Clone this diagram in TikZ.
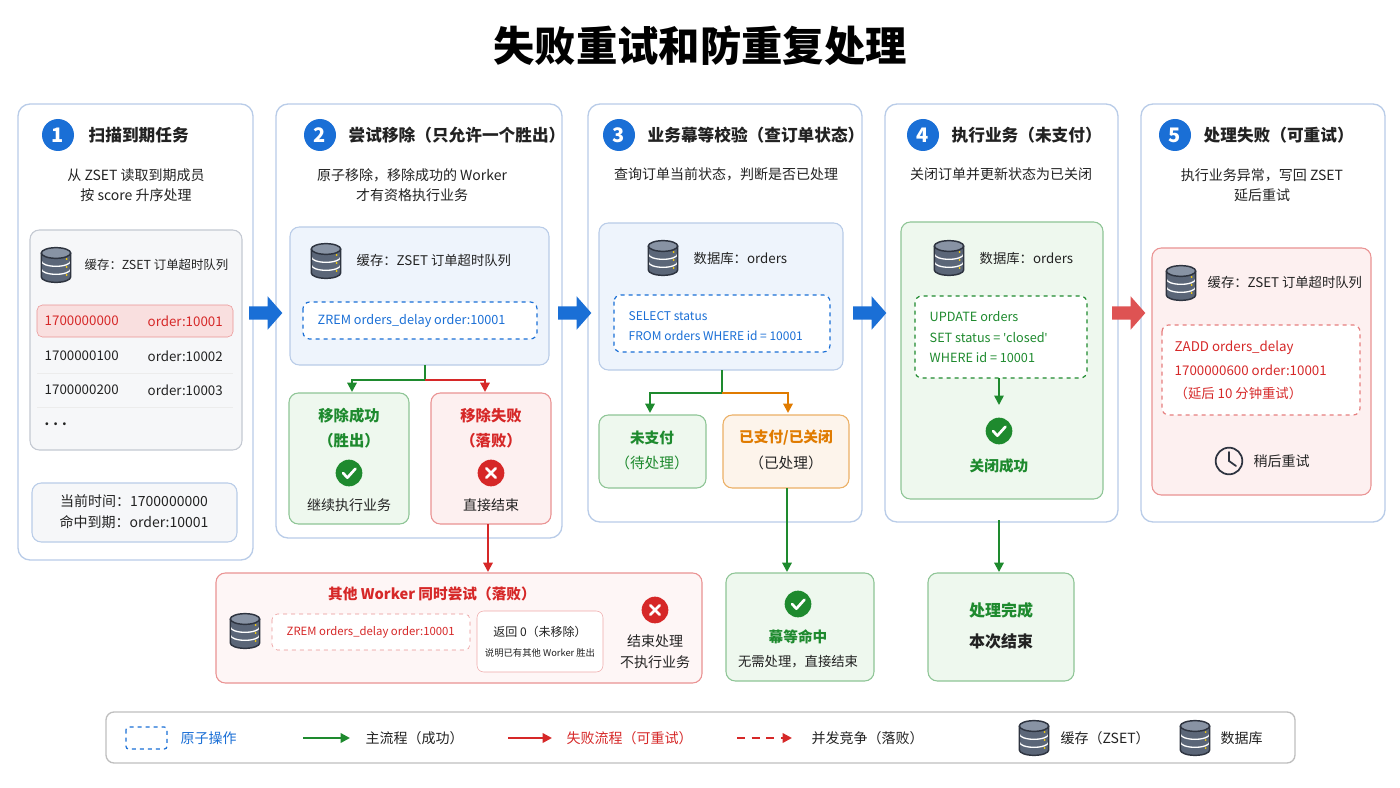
\documentclass[tikz,border=0pt]{standalone}
\usepackage{fontspec}
\setmainfont{Noto Sans CJK SC}
\newfontfamily\latfont{Noto Sans}
\newcommand{\mysq}{{\latfont\char"27}}
\usetikzlibrary{arrows.meta}
\definecolor{pborder}{HTML}{B9CCE8}
\definecolor{cblue}{HTML}{1A6FD6}
\definecolor{cgreen}{HTML}{1E8A2E}
\definecolor{cred}{HTML}{D62828}
\definecolor{corange}{HTML}{E07B00}
\definecolor{lblue}{HTML}{EEF4FC}
\definecolor{lgreen}{HTML}{EEF8EE}
\definecolor{lred}{HTML}{FDF0F0}
\definecolor{lgray}{HTML}{F6F7F9}
\definecolor{gborder}{HTML}{C4C9D2}
\definecolor{dbfill}{HTML}{5B6678}
\definecolor{dbtop}{HTML}{8893A4}
\definecolor{dbline}{HTML}{2E3440}
\definecolor{txt}{HTML}{222222}
\tikzset{
 panel/.style={draw=pborder,line width=1pt,rounded corners=9pt,fill=white},
 ibox/.style={rounded corners=7pt,line width=0.8pt},
 tt/.style={font=\fontsize{12.5}{16}\selectfont\bfseries,text=txt,anchor=west},
 st/.style={font=\fontsize{10.5}{15}\selectfont,text=txt,align=center},
 tx/.style={font=\fontsize{10}{14}\selectfont,text=txt},
 cd/.style={font=\fontsize{9.5}{13}\selectfont,anchor=west},
 num/.style={circle,fill=cblue,text=white,minimum size=24pt,inner sep=0pt,font=\fontsize{15}{15}\selectfont\bfseries},
 garr/.style={draw=cgreen,line width=1.5pt,-{Triangle[length=7pt,width=7pt]}},
 rarr/.style={draw=cred,line width=1.5pt,-{Triangle[length=7pt,width=7pt]}},
 oarr/.style={draw=corange,line width=1.5pt,-{Triangle[length=7pt,width=7pt]}},
 db/.pic={
  \fill[dbfill] (-11pt,9pt) -- (-11pt,-9pt) arc(180:360:11pt and 4pt) -- (11pt,9pt) -- cycle;
  \draw[white,line width=1pt] (-11pt,3pt) arc(180:360:11pt and 4pt);
  \draw[white,line width=1pt] (-11pt,-3pt) arc(180:360:11pt and 4pt);
  \fill[dbtop] (0,9pt) ellipse (11pt and 4pt);
  \draw[dbline,line width=1.1pt] (-11pt,9pt) -- (-11pt,-9pt) arc(180:360:11pt and 4pt) -- (11pt,9pt);
  \draw[dbline,line width=1.1pt] (0,9pt) ellipse (11pt and 4pt);
  \foreach \yy in {4.5pt,-1.5pt,-7.5pt} \fill[yellow!70!orange] (8pt,\yy) circle (0.7pt);
 },
 chk/.pic={\fill[cgreen] (0,0) circle (10pt);
  \draw[white,line width=2pt,line cap=round,line join=round] (-4.5pt,0pt)--(-1.2pt,-3.5pt)--(4.8pt,3.2pt);},
 xic/.pic={\fill[cred] (0,0) circle (10pt);
  \draw[white,line width=2pt,line cap=round] (-3.5pt,-3.5pt)--(3.5pt,3.5pt) (-3.5pt,3.5pt)--(3.5pt,-3.5pt);},
 fat/.pic={\fill (0,-5pt) -- (14pt,-5pt) -- (14pt,-12.5pt) -- (25pt,0) -- (14pt,12.5pt) -- (14pt,5pt) -- (0,5pt) -- cycle;},
}
\begin{document}
\begin{tikzpicture}[x=0.75pt,y=-0.75pt]
\useasboundingbox[fill=white] (0,0) rectangle (1400,788);
\node[font=\fontsize{31}{34}\selectfont\bfseries,text=black] (title) at (700,46) {失败重试和防重复处理};

% panels
\draw[panel] (18,104) rectangle (253,560);
\draw[panel] (276,104) rectangle (562,538);
\draw[panel] (588,104) rectangle (862,522);
\draw[panel] (885,104) rectangle (1118,522);
\draw[panel] (1141,104) rectangle (1385,522);

\node[num] (n1) at (58,135) {1};
\node[tt] (t1) at (84,135) {扫描到期任务};
\node[num] (n2) at (320,135) {2};
\node[tt] (t2) at (344,135) {尝试移除（只允许一个胜出）};
\node[num] (n3) at (619,135) {3};
\node[tt] (t3) at (643,135) {业务幕等校验（查订单状态）};
\node[num] (n4) at (923,135) {4};
\node[tt] (t4) at (947,135) {执行业务（未支付）};
\node[num] (n5) at (1175,135) {5};
\node[tt] (t5) at (1199,135) {处理失败（可重试）};

\node[st] (s1) at (136,185) {从 ZSET 读取到期成员\\按 score 升序处理};
\node[st] (s2) at (412,185) {原子移除，移除成功的 Worker\\才有资格执行业务};
\node[st] (s3) at (726,174) {查询订单当前状态，判断是否已处理};
\node[st] (s4) at (1001,174) {关闭订单并更新状态为已关闭};
\node[st] (s5) at (1262,185) {执行业务异常，写回 ZSET\\延后重试};

% panel 1
\draw[ibox,draw=gborder,fill=lgray] (30,230) rectangle (242,450);
\pic at (56,265) {db};
\node[tx,anchor=west,font=\fontsize{9.3}{12}\selectfont] (c1) at (80,265) {缓存：ZSET 订单超时队列};
\draw[rounded corners=4pt,draw=cred!50,fill=cred!15] (37,305) rectangle (233,337);
\node[tx,anchor=west,text=cred] (r1a) at (40,321) {1700000000};
\node[tx,anchor=west,text=cred] (r1b) at (143,321) {order:10001};
\node[tx,anchor=west] (r2a) at (40,356) {1700000100};
\node[tx,anchor=west] (r2b) at (143,356) {order:10002};
\draw[gray!15] (37,373) -- (233,373) (37,407) -- (233,407);
\node[tx,anchor=west] (r3a) at (40,390) {1700000200};
\node[tx,anchor=west] (r3b) at (143,390) {order:10003};
\node[tx,anchor=west] (r4) at (40,424) {\textbf{. . .}};
\draw[ibox,draw=pborder,fill=lgray] (32,483) rectangle (237,542);
\node[tx,align=center,font=\fontsize{10.5}{16}\selectfont] (now) at (134,512) {当前时间：1700000000\\命中到期：order:10001};

% big arrows
\pic[cblue] at (249,313) {fat};
\pic[cblue] at (558,313) {fat};
\pic[cblue] at (853,313) {fat};
\pic[cred!80] at (1112,313) {fat};

% panel 2
\draw[ibox,draw=pborder,fill=lblue] (290,227) rectangle (549,365);
\pic at (326,261) {db};
\node[tx,anchor=west] (c2) at (352,260) {缓存：ZSET 订单超时队列};
\draw[rounded corners=5pt,draw=cblue,dashed,line width=0.9pt,fill=white] (303,302) rectangle (537,339);
\node[cd,text=cblue] (zrem) at (313,321) {ZREM orders\_delay order:10001};
\coordinate (sp2) at (425,365);
\coordinate (sp2m) at (425,380);
\draw[ibox,draw=cgreen!50,fill=lgreen] (289,393) rectangle (409,524);
\draw[ibox,draw=cred!50,fill=lred] (431,393) rectangle (551,524);
\node[tx,text=cgreen,font=\fontsize{11.5}{15}\selectfont\bfseries] (ok2) at (349,416) {移除成功};
\node[tx,text=cgreen,font=\fontsize{11.5}{15}\selectfont\bfseries] (ok2b) at (349,441) {（胜出）};
\pic at (349,473) {chk};
\node[tx,font=\fontsize{10.5}{14}\selectfont] (ok2c) at (349,505) {继续执行业务};
\node[tx,text=cred,font=\fontsize{11.5}{15}\selectfont\bfseries] (f2) at (491,416) {移除失败};
\node[tx,text=cred,font=\fontsize{11.5}{15}\selectfont\bfseries] (f2b) at (491,441) {（落败）};
\pic at (491,473) {xic};
\node[tx,font=\fontsize{10.5}{14}\selectfont] (f2c) at (491,505) {直接结束};
\draw[cgreen,line width=1.5pt] (sp2) -- (sp2m);
\draw[garr] (sp2m) -| (352,392);
\draw[rarr] (sp2m) -| (485,392);
\coordinate (f2bot) at (488,524);
\coordinate (other) at (488,572);
\draw[rarr] (f2bot) -- (other);

% other worker box
\draw[ibox,draw=cred!50,fill=lred!60] (216,573) rectangle (702,683);
\node[tx,text=cred,font=\fontsize{11}{14}\selectfont\bfseries] (ow) at (432,594) {其他 Worker 同时尝试（落败）};
\pic at (245,631) {db};
\draw[rounded corners=4pt,draw=cred!50,dashed,fill=white] (272,614) rectangle (470,650);
\node[cd,text=cred,font=\fontsize{8.5}{11}\selectfont] (zrem2) at (282,632) {ZREM orders\_delay order:10001};
\draw[rounded corners=5pt,draw=cred!40,fill=white] (477,611) rectangle (603,672);
\node[tx,font=\fontsize{9}{12}\selectfont] (ret) at (540,632) {返回 0（未移除）};
\node[tx,font=\fontsize{7}{9}\selectfont] (ret2) at (540,653) {说明已有其他 Worker 胜出};
\pic at (655,610) {xic};
\node[tx,align=center,font=\fontsize{10.5}{16}\selectfont] (end) at (655,652) {结束处理\\不执行业务};

% panel 3
\draw[ibox,draw=pborder,fill=lblue] (599,223) rectangle (843,370);
\pic at (663,258) {db};
\node[tx,anchor=west] (c3) at (689,258) {数据库：orders};
\draw[rounded corners=5pt,draw=cblue,dashed,line width=0.9pt,fill=white] (614,295) rectangle (830,352);
\node[cd,text=cblue,font=\fontsize{9}{12}\selectfont] (sel1) at (624,316) {SELECT status};
\node[cd,text=cblue,font=\fontsize{9}{12}\selectfont] (sel2) at (624,336) {FROM orders WHERE id = 10001};
\coordinate (sp3) at (722,370);
\coordinate (sp3m) at (722,393);
\draw[ibox,draw=cgreen!50,fill=lgreen] (599,415) rectangle (706,488);
\draw[ibox,draw=corange!60,fill=corange!8] (723,415) rectangle (849,488);
\node[tx,text=cgreen,font=\fontsize{11}{14}\selectfont\bfseries] (up) at (652,438) {未支付};
\node[tx,text=cgreen,font=\fontsize{11}{14}\selectfont] (upb) at (652,463) {（待处理）};
\node[tx,text=corange,font=\fontsize{11}{14}\selectfont\bfseries] (pd) at (786,438) {已支付/已关闭};
\node[tx,font=\fontsize{11}{14}\selectfont] (pdb) at (786,463) {（已处理）};
\draw[cgreen,line width=1.5pt] (sp3) -- (sp3m);
\draw[garr] (sp3m) -| (650,413);
\draw[oarr] (sp3m) -| (788,413);
\draw[ibox,draw=cgreen!50,fill=lgreen] (726,573) rectangle (874,681);
\draw[garr] (787,488) -- (787,572);
\pic at (798,604) {chk};
\node[tx,text=cgreen,font=\fontsize{11}{14}\selectfont\bfseries] (idem) at (798,637) {幕等命中};
\node[tx,font=\fontsize{10}{14}\selectfont] (idem2) at (798,662) {无需处理，直接结束};

% panel 4
\draw[ibox,draw=cgreen!50,fill=lgreen] (901,222) rectangle (1103,499);
\pic at (949,258) {db};
\node[tx,anchor=west] (c4) at (975,258) {数据库：orders};
\draw[rounded corners=5pt,draw=cgreen,dashed,line width=0.9pt,fill=white] (915,296) rectangle (1087,378);
\node[cd,text=cgreen,font=\fontsize{9.5}{12}\selectfont] (u1) at (925,317) {UPDATE orders};
\node[cd,text=cgreen,font=\fontsize{9.5}{12}\selectfont] (u2) at (925,338) {SET status = \mysq closed\mysq};
\node[cd,text=cgreen,font=\fontsize{9.5}{12}\selectfont] (u3) at (925,358) {WHERE id = 10001};
\draw[garr,line width=1.2pt] (999,378) -- (999,405);
\pic at (999,431) {chk};
\node[tx,text=cgreen,font=\fontsize{11}{14}\selectfont\bfseries] (cl) at (999,466) {关闭成功};
\draw[garr] (999,520) -- (999,572);
\draw[ibox,draw=cgreen!50,fill=lgreen] (928,573) rectangle (1074,681);
\node[tx,text=cgreen,font=\fontsize{12}{15}\selectfont\bfseries] (done) at (1001,610) {处理完成};
\node[tx,font=\fontsize{12}{15}\selectfont\bfseries] (done2) at (1001,641) {本次结束};

% panel 5
\draw[ibox,draw=cred!50,fill=lred] (1152,248) rectangle (1371,495);
\pic at (1181,283) {db};
\node[tx,anchor=west] (c5) at (1203,282) {缓存：ZSET 订单超时队列};
\draw[rounded corners=5pt,draw=cred!60,dashed,line width=0.9pt,fill=white] (1162,325) rectangle (1360,415);
\node[cd,text=cred,font=\fontsize{10}{12}\selectfont] (z1) at (1170,348) {ZADD orders\_delay};
\node[cd,text=cred,font=\fontsize{10}{12}\selectfont] (z2) at (1170,370) {1700000600 order:10001};
\node[cd,text=cred,font=\fontsize{10}{12}\selectfont] (z3) at (1170,393) {（延后 10 分钟重试）};
\draw[line width=1.3pt,dbline] (1229,461) circle (10pt);
\draw[line width=1.3pt,dbline,line cap=round] (1229,452) -- (1229,461) -- (1236,466);
\node[tx,anchor=west,font=\fontsize{10.5}{14}\selectfont] (later) at (1249,461) {稍后重试};

% legend
\draw[draw=gray!50,fill=white,rounded corners=6pt,line width=1pt] (106,712) rectangle (1295,763);
\draw[cblue,dashed,rounded corners=2pt,line width=0.9pt] (126,727) rectangle (167,749);
\node[tx,anchor=west,text=cblue,font=\fontsize{10.5}{14}\selectfont] (lg1) at (176,738) {原子操作};
\coordinate (lg2a) at (303,738); \coordinate (lg2b) at (350,738);
\draw[garr,line width=2pt] (lg2a) -- (lg2b);
\node[tx,anchor=west,font=\fontsize{10.5}{14}\selectfont] (lg2) at (361,738) {主流程（成功）};
\coordinate (lg3a) at (508,738); \coordinate (lg3b) at (552,738);
\draw[rarr,line width=2pt] (lg3a) -- (lg3b);
\node[tx,anchor=west,text=cred,font=\fontsize{10.5}{14}\selectfont] (lg3) at (562,738) {失败流程（可重试）};
\coordinate (lg4a) at (737,738); \coordinate (lg4b) at (792,738);
\draw[rarr,line width=2pt,dash pattern=on 6pt off 5pt] (lg4a) -- (lg4b);
\node[tx,anchor=west,font=\fontsize{10.5}{14}\selectfont] (lg4) at (807,738) {并发竞争（落败）};
\pic at (1034,738) {db};
\node[tx,anchor=west,font=\fontsize{10.5}{14}\selectfont] (lg5) at (1056,738) {缓存（ZSET）};
\pic at (1195,738) {db};
\node[tx,anchor=west,font=\fontsize{10.5}{14}\selectfont] (lg6) at (1216,738) {数据库};
\end{tikzpicture}
\end{document}
